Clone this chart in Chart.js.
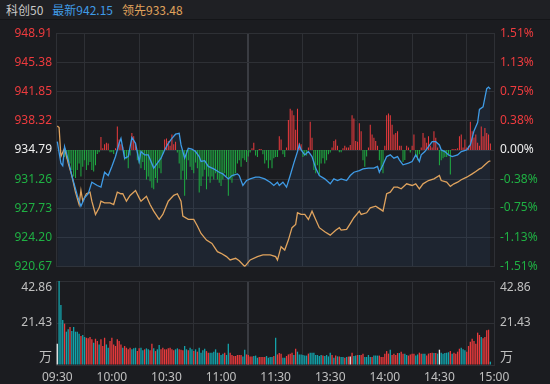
<!DOCTYPE html>
<html>
<head>
<meta charset="utf-8">
<script src="https://cdn.jsdelivr.net/npm/chart.js@4.4.0/dist/chart.umd.min.js"></script>
<style>
  html, body { margin: 0; padding: 0; background: #1b1c20; }
  #wrap { position: relative; width: 550px; height: 384px; overflow: hidden; }
  #head {
    position: absolute; left: 0; top: 0; width: 550px; height: 20px;
    background: #1f2024; border-bottom: 1px solid #141518; box-sizing: border-box;
    font: 12px "Noto Sans CJK SC", "Noto Sans", sans-serif; line-height: 20px; padding-left: 6px;
    white-space: nowrap;
  }
  #head span { margin-right: 9px; }
  canvas { position: absolute; left: 0; }
  #price { top: 20px; }
  #volume { top: 270px; }
</style>
</head>
<body>
<div id="wrap">
  <div id="head"><span style="color:#c8c8c8">科创50</span><span style="color:#3f9be6">最新942.15</span><span style="color:#e0a35c">领先933.48</span></div>
  <canvas id="price" width="550" height="260"></canvas>
  <canvas id="volume" width="550" height="114"></canvas>
</div>
<script>
// axis labels
const timeLabels = ["09:30", "10:00", "10:30", "11:00", "11:30", "13:30", "14:00", "14:30", "15:00"];
const priceTicks = [920.67, 924.20, 927.73, 931.26, 934.79, 938.32, 941.85, 945.38, 948.91];
const pctTicks = [-1.51, -1.13, -0.75, -0.38, 0, 0.38, 0.75, 1.13, 1.51];
const prevClose = 934.79;
const volTicks = [0, 21.43, 42.86];
const volUnit = "万";

// [minute index, price]
const latest = [[0,935.8],[2,933.2],[3,932.9],[4,935.2],[6,933.6],[8,931.7],[11,929.3],[13,928.0],[15,929.0],[17,929.5],
  [19,930.9],[22,930.5],[24,930.3],[26,932.1],[28,931.7],[30,932.8],[32,934.0],[34,935.6],[35,936.2],[37,933.8],
  [39,934.0],[41,936.3],[43,935.6],[45,933.4],[46,934.6],[48,934.2],[50,934.2],[53,932.6],[55,933.2],[57,933.8],
  [59,934.8],[61,935.6],[63,936.2],[65,936.7],[67,936.8],[68,935.4],[70,933.8],[72,935.0],[74,934.9],[76,934.6],
  [78,934.0],[79,933.4],[81,933.5],[83,932.8],[86,932.5],[89,932.1],[91,931.9],[94,931.3],[96,931.7],[99,931.9],
  [100,931.7],[102,930.5],[104,931.1],[106,931.3],[109,931.5],[111,931.5],[114,931.3],[117,930.9],[119,930.5],[121,930.9],
  [122,930.5],[124,930.9],[126,930.3],[128,931.7],[130,933.2],[132,934.6],[133,935.4],[134,934.8],[136,934.2],[138,934.6],
  [140,934.0],[142,932.6],[144,931.7],[147,931.3],[150,930.7],[152,931.3],[154,931.1],[156,931.3],[159,931.1],[161,931.7],
  [163,932.1],[166,932.3],[168,932.5],[171,932.6],[174,932.6],[176,932.8],[177,932.1],[179,933.0],[181,934.0],[183,934.2],
  [185,933.8],[187,934.0],[188,933.6],[190,933.0],[193,933.2],[195,933.4],[197,934.2],[199,933.4],[200,934.2],[202,934.6],
  [204,935.2],[206,935.8],[208,935.8],[210,935.4],[211,934.8],[213,934.6],[215,934.2],[217,934.0],[220,934.2],[222,934.6],
  [225,934.8],[227,935.4],[229,937.1],[231,938.1],[232,939.7],[234,940.0],[236,942.2],[237,942.4],[238,942.15]];

const leading = [[0,937.7],[1,937.5],[2,934.0],[4,935.0],[6,933.2],[8,931.7],[10,929.7],[12,928.2],[13,929.9],[14,928.6],
  [16,929.5],[18,929.7],[19,928.6],[21,927.0],[23,927.8],[24,928.6],[26,928.4],[29,928.4],[31,928.2],[33,929.7],
  [35,929.5],[36,929.5],[38,928.6],[40,929.3],[43,929.9],[45,929.0],[46,928.6],[49,929.2],[51,928.2],[53,927.4],
  [56,926.4],[58,927.0],[61,928.6],[64,929.3],[66,929.5],[68,928.6],[69,926.8],[72,926.4],[75,926.4],[77,925.6],
  [79,924.7],[82,923.9],[85,923.5],[88,922.5],[90,922.3],[93,921.9],[95,921.5],[98,921.7],[100,921.4],[103,920.7],
  [106,921.5],[110,921.9],[113,922.1],[117,922.1],[120,921.9],[121,921.5],[122,922.3],[123,923.1],[125,922.7],[127,923.9],
  [129,925.4],[131,925.8],[132,927.2],[134,927.0],[136,927.0],[138,926.4],[140,927.4],[142,926.4],[144,925.4],[147,924.9],
  [150,924.5],[153,925.1],[155,925.4],[156,925.1],[159,925.2],[161,925.9],[163,926.6],[166,927.4],[167,927.0],[170,927.2],
  [172,927.8],[175,928.0],[177,927.7],[179,927.4],[181,929.5],[183,929.7],[185,930.3],[187,930.3],[189,930.1],[192,930.7],
  [195,930.5],[197,930.7],[199,930.1],[201,930.7],[204,931.1],[207,931.3],[210,931.7],[211,931.1],[214,930.9],[216,930.4],
  [218,930.7],[220,930.9],[222,931.2],[225,931.5],[228,931.9],[230,932.2],[232,932.5],[233,932.6],[235,933.0],[237,933.4],
  [238,933.48]];

// per-minute buy/sell imbalance, in index points from prevClose
const imbalance = [
  0, 0, 0, 0,
  -0.86, -1.05, -1.25, -1.63, -2.41, -3.19, -3.39, -2.41, -1.63, -3.19, -2.02, -1.25, -2.41, -1.83, -1.44, -2.41, -2.60, -1.83, -0.47, -0.27,
  1.56, 0.2, 0.70, 0.89, 0.78, -0.27, -0.27, -0.47, 0.2, 2.84, 1.28, 0.70, 0.4, -1.25, -1.05, -2.22, -0.66, 2.06, 1.67, 0.89,
  -1.25, -1.63, -2.22, -1.44, -2.41, -3.58, -3.19, -3.77, -4.55, -4.75, -3.39, -3.97, -2.22, -2.80, -0.47, 1.28, 1.40, 1.09, 0.5, 1.87,
  0.70, 1.0, -0.3, -1.63, -3.58, -2.5, -5.53, -3.58, -1.25, -2.02, -2.41, -2.80, -1.5, -2.2, -5.14, -4.36, -3.19, -2.4, -4.75, -3.19,
  -3.97, -3.19, -3.58, -2.80, -3.58, -3.97, -4.36, -3.58, -2.80, -3.2, -5.53, -3.58, -3.97, -3.19, -2.80, -1.63, -1.25, -2.02, -1.0, -1.25,
  -1.44, -0.8, -0.3, 0.2, 0.89, -0.66, -0.86, 0.12, 0.12, -0.5, -1.63, -1.25, -2.22, -1.25, -2.22, -1.0, -0.86, -0.86, 1.67, 1.28,
  -0.5, -0.86, 0.3, 3.62, 4.98, 4.79, 4.20, 2.45, 4.98, 0.89, 0.70, -0.86, -0.66, -0.66, 0.3, 3.42, 1.48, -2.41, -2.80, -1.83,
  -3.0, -1.63, -1.0, -1.63, -1.25, -0.5, -0.3, 0.3, 1.09, 1.28, 0.5, -0.27, -0.27, 0.2, 0.5, 0.3, 0.3, 0.6, 4.20, 3.81,
  1.09, 1.0, 3.23, 2.26, -1.25, -2.02, -0.8, 0.3, 3.04, 1.87, 1.48, 1.09, 0.5, -1.25, -2.41, -2.80, 0.5, 4.20, 4.40, 4.20,
  3.04, 1.87, 2.06, 2.26, 0.51, 0.51, -1.44, -1.2, 0.51, 0.3, -0.3, 0.5, 1.87, -0.86, -1.25, -0.5, 0.3, 2.06, 1.48, 0.89,
  1.67, 0.51, 0.3, 2.26, 1.48, 0.3, -1.83, -1.25, -1.0, -0.86, -0.86, -0.5, -2.97, 0.12, 0.12, 0.12, 0.2, 1.67, 1.87, 0.3,
  1.28, 0.3, 0.5, 3.42, 2.26, 1.5, 1.87, 0.89, 0.5, 2.84, 1.67, 2.65, 2.06, 1.87, 0.8
];

// per-minute volume (万)
const volume = [
  10.9, 42.86, 30.6, 23.0, 21.1, 17.0, 18.2, 19.4, 17.3, 19.4,
  17.0, 17.0, 16.0, 14.8, 15.3, 14.3, 13.9, 13.6, 14.3, 13.1,
  11.4, 13.4, 12.2, 10.5, 13.1, 9.7, 13.9, 10.5, 8.8, 12.2,
  13.9, 10.5, 9.7, 13.1, 12.2, 10.5, 8.8, 9.7, 8.8, 8.0,
  8.8, 8.0, 8.5, 8.8, 7.1, 8.5, 8.8, 7.5, 8.0, 8.5,
  8.0, 7.5, 10.9, 8.5, 7.1, 8.0, 10.2, 8.0, 8.8, 8.0,
  8.0, 8.5, 8.8, 8.0, 7.5, 8.0, 8.5, 8.0, 7.8, 7.5,
  9.7, 8.0, 7.5, 8.8, 8.0, 7.1,
  8.0, 6.8, 8.8, 6.3, 7.5, 8.3, 7.1, 6.3, 6.3, 6.3,
  6.8, 8.0, 6.3, 6.3, 5.1, 5.8, 6.3, 5.1, 10.9, 6.3,
  5.1, 4.6, 4.6, 5.1, 5.1, 5.1, 4.4, 7.8, 5.4, 5.1,
  4.4, 4.4, 4.6, 4.8, 3.7, 4.1, 4.1, 4.1, 4.1, 4.6,
  3.7, 4.1, 4.1, 4.6, 13.9, 5.4, 6.1, 5.8, 3.7, 3.7,
  4.6, 5.4, 5.8, 6.3, 5.1, 8.3, 6.8, 5.4, 5.4, 5.1,
  4.8, 4.8, 5.8, 6.3, 6.3, 6.3, 5.1, 5.1, 4.6, 5.1,
  4.8, 4.6, 5.1, 4.4, 6.3, 5.1, 3.7, 4.8, 4.4, 4.4,
  4.1, 4.1, 3.7, 4.1, 4.3, 4.3, 6.3, 4.6, 4.9, 5.1,
  5.1, 5.1, 5.8, 4.1, 4.1, 5.1, 4.1, 4.1, 4.8, 4.8,
  4.8, 4.8, 4.1, 4.1, 5.8, 7.1, 5.8, 7.8, 5.1, 5.8,
  5.1, 6.1, 6.1, 6.8, 5.8, 5.8, 5.1, 4.8, 5.4, 5.8,
  5.8, 4.8, 5.4, 6.3, 5.8, 5.8, 5.8, 4.8, 5.8, 6.1,
  6.3, 6.1, 6.1, 5.8, 7.8, 6.3, 5.8, 6.1, 6.3, 6.5,
  7.1, 5.8, 6.3, 5.8, 6.8, 8.3, 8.8, 8.0, 7.5, 6.8,
  9.7, 11.9, 13.4, 12.2, 10.9, 16.5, 15.3, 14.3, 13.6, 14.3,
  17.7, 18.0, 1.7
];

// minute direction: 1 up, -1 down, 0 flat
const direction = [
  0, -1, -1, -1, 1, -1, -1, 1, -1, -1,
  -1, -1, -1, 1, -1, -1, 1, 1, 1, 1,
  -1, 1, 1, -1, 1, 1, 1, -1, -1, 1,
  1, 1, 1, 1, 1, 1, -1, 1, 1, 1,
  1, -1, -1, -1, 1, 1, -1, -1, 1, -1,
  -1, 1, 1, -1, 1, -1, -1, 1, 1, 1,
  1, 1, 1, 1, 1, -1, -1, 1, 1, 1,
  -1, -1, 1, -1, -1, 1,
  -1, 1, -1, -1, -1, -1, 1, 1, -1, -1,
  -1, -1, -1, 1, -1, -1, 1, -1, -1, 1,
  1, 1, 1, 1, 1, 1, -1, -1, 1, 1,
  1, 1, -1, -1, -1, 1, 1, 1, 1, -1,
  -1, -1, -1, 1, -1, 1, 1, 1, -1, -1,
  1, 1, 1, 1, -1, 1, -1, -1, -1, -1,
  -1, -1, 1, -1, -1, -1, -1, -1, -1, -1,
  1, -1, -1, -1, -1, 1, -1, 1, -1, 1,
  -1, -1, 1, -1, 1, 0, 1, -1, -1, 1,
  -1, 1, 1, -1, -1, -1, -1, 1, -1, -1,
  -1, 1, 1, 1, 1, 1, 1, -1, 1, 1,
  1, 1, -1, 1, 1, -1, -1, 1, 1, 1,
  1, -1, -1, 1, 1, -1, -1, 1, 1, 1,
  1, -1, 1, -1, 0, -1, -1, -1, -1, -1,
  1, -1, 1, 1, 1, 1, -1, -1, -1, 1,
  1, 1, 1, 1, 1, 1, 1, -1, 1, 1,
  1, 1, -1
];

const RED = "#ee3b3e";
const GREEN = "#1fb043";
const WHITE = "#eeeeee";
const GRID = "#2e3035";
const GRID_MID = "#3a3c42";
const LABEL = "#c0c0c0";

Chart.defaults.font.family = '"Noto Sans", "Noto Sans CJK SC", sans-serif';
Chart.defaults.font.size = 12;

const xMin = -0.7;
const xMax = 240;

function tickValue(ctx) {
    return ctx && ctx.tick ? ctx.tick.value : null;
}

function timeGrid() {
    return {
        color: (ctx) => {
            const v = tickValue(ctx);
            return v === 0 ? "rgba(0,0,0,0)" : v === 120 ? GRID_MID : GRID;
        },
        lineWidth: (ctx) => (tickValue(ctx) === 120 ? 2 : 1),
        drawTicks: false,
    };
}

function setTimeTicks(scale) {
    scale.ticks = timeLabels.map((_, k) => ({ value: k * 30 }));
}

function signColor(v, mid) {
    if (v === null) return WHITE;
    if (Math.abs(v - mid) < 1e-6) return WHITE;
    return v > mid ? RED : GREEN;
}

new Chart(document.getElementById("price"), {
    type: "line",
    data: {
        datasets: [
            {
                label: "最新",
                data: latest.map(([x, y]) => ({ x, y })),
                borderColor: "#3f9be6",
                borderWidth: 1.3,
                backgroundColor: "rgba(64,130,210,0.09)",
                fill: "start",
                pointRadius: 0,
                tension: 0,
                order: 1,
            },
            {
                label: "领先",
                data: leading.map(([x, y]) => ({ x, y })),
                borderColor: "#dfa35e",
                borderWidth: 1.3,
                fill: false,
                pointRadius: 0,
                tension: 0,
                order: 2,
            },
            {
                type: "bar",
                data: imbalance.map((v, i) => ({ x: i, y: [prevClose, prevClose + v] })),
                backgroundColor: (ctx) => (imbalance[ctx.dataIndex] >= 0 ? RED : GREEN),
                barThickness: 1,
                inflateAmount: 0,
                grouped: false,
                order: 3,
            },
        ],
    },
    options: {
        responsive: false,
        animation: false,
        events: [],
        layout: { padding: { top: 9, bottom: 9, left: 0, right: 0 } },
        plugins: {
            legend: { display: false },
            tooltip: { enabled: false },
            filler: { drawTime: "beforeDatasetsDraw" },
        },
        scales: {
            x: {
                type: "linear",
                min: xMin,
                max: xMax,
                offset: false,
                afterBuildTicks: setTimeTicks,
                afterFit: (s) => { s.height = 0; },
                ticks: { display: false },
                grid: timeGrid(),
                border: { display: false },
            },
            y: {
                position: "left",
                min: priceTicks[0],
                max: priceTicks[priceTicks.length - 1],
                afterBuildTicks: (s) => { s.ticks = priceTicks.map((v) => ({ value: v })); },
                afterFit: (s) => { s.width = 56; },
                ticks: {
                    callback: (v) => v.toFixed(2),
                    color: (ctx) => signColor(tickValue(ctx), prevClose),
                    padding: 4,
                },
                grid: { color: GRID, drawTicks: false },
                border: { color: GRID },
            },
            y1: {
                position: "right",
                min: pctTicks[0],
                max: pctTicks[pctTicks.length - 1],
                afterBuildTicks: (s) => { s.ticks = pctTicks.map((v) => ({ value: v })); },
                afterFit: (s) => { s.width = 56; },
                ticks: {
                    callback: (v) => v.toFixed(2) + "%",
                    color: (ctx) => signColor(tickValue(ctx), 0),
                    padding: 6,
                },
                grid: { display: false, drawTicks: false },
                border: { color: GRID },
            },
        },
    },
});

// volume axis labels: top one hangs inside, unit sits on the floor
const volumeLabels = {
    id: "volumeLabels",
    afterDraw(chart) {
        const { ctx, chartArea } = chart;
        const y = chart.scales.y;
        const rows = [
            { text: volTicks[2].toFixed(2), py: chartArea.top + 1, base: "top" },
            { text: volTicks[1].toFixed(2), py: y.getPixelForValue(volTicks[1]), base: "middle" },
            { text: volUnit, py: chartArea.bottom - 2, base: "bottom" },
        ];
        ctx.save();
        ctx.fillStyle = LABEL;
        rows.forEach((r) => {
            ctx.textBaseline = r.base;
            ctx.font = r.text === volUnit ? '13px "Noto Sans CJK SC"' : '12px "Noto Sans"';
            ctx.textAlign = "right";
            ctx.fillText(r.text, chartArea.left - 4, r.py);
            ctx.textAlign = "left";
            ctx.fillText(r.text, chartArea.right + 6, r.py);
        });
        ctx.restore();
    },
};

new Chart(document.getElementById("volume"), {
    type: "bar",
    data: {
        datasets: [
            {
                data: volume.map((v, i) => ({ x: i, y: v })),
                backgroundColor: (ctx) => {
                    const d = direction[ctx.dataIndex];
                    return d > 0 ? "#e83a3c" : d < 0 ? "#13a3ab" : WHITE;
                },
                barThickness: 1.3,
                inflateAmount: 0,
            },
        ],
    },
    options: {
        responsive: false,
        animation: false,
        events: [],
        layout: { padding: { top: 11, bottom: 0, left: 0, right: 0 } },
        plugins: { legend: { display: false }, tooltip: { enabled: false } },
        scales: {
            x: {
                type: "linear",
                min: xMin,
                max: xMax,
                offset: false,
                afterBuildTicks: setTimeTicks,
                afterFit: (s) => { s.height = 19; },
                ticks: {
                    callback: (v, i) => timeLabels[i],
                    color: LABEL,
                    padding: 5,
                    autoSkip: false,
                    maxRotation: 0,
                },
                grid: timeGrid(),
                border: { color: GRID },
            },
            y: {
                position: "left",
                min: volTicks[0],
                max: volTicks[2],
                afterBuildTicks: (s) => { s.ticks = volTicks.map((v) => ({ value: v })); },
                afterFit: (s) => { s.width = 56; },
                ticks: { display: false },
                grid: { color: GRID, drawTicks: false },
                border: { color: GRID },
            },
            y1: {
                position: "right",
                min: volTicks[0],
                max: volTicks[2],
                afterFit: (s) => { s.width = 56; },
                ticks: { display: false },
                grid: { display: false, drawTicks: false },
                border: { color: GRID },
            },
        },
    },
    plugins: [volumeLabels],
});
</script>
</body>
</html>
